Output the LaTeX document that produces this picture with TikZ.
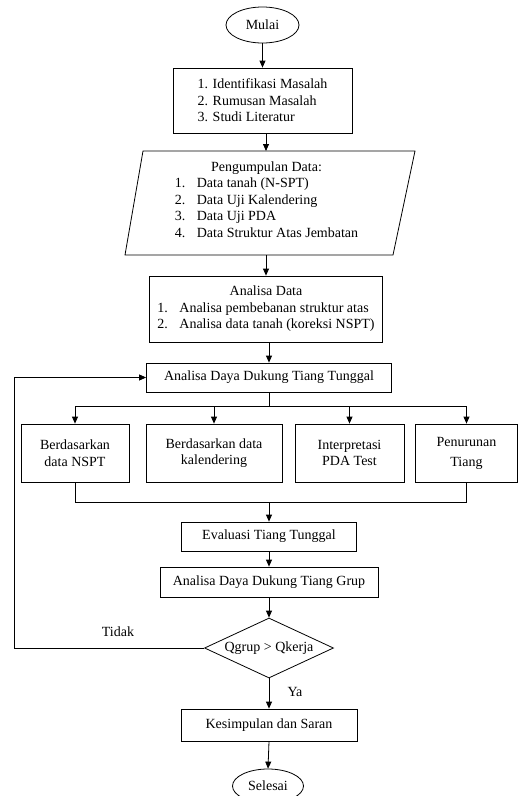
\documentclass[tikz,border=0pt]{standalone}
\usepackage{fontspec}
\setmainfont{Liberation Serif}
\usetikzlibrary{shapes.geometric,arrows.meta}
\begin{document}
\begin{tikzpicture}[x=1pt,y=-1pt,
  every node/.style={font=\fontsize{14}{16.5}\selectfont, inner sep=0pt},
  ln/.style={line width=0.8pt},
  box/.style={draw, ln, rectangle, align=center},
  term/.style={draw, ln, ellipse},
  arr/.style={ln, -{Triangle[length=7pt,width=6pt]}}
]
\useasboundingbox (0,0) rectangle (519,796);

% start
\node[term, minimum width=73pt, minimum height=36pt] (mulai) at (262.5,25) {Mulai};

% box 1
\node[box, align=left, minimum width=179pt, minimum height=65pt] (b1) at (262.5,100.5)
  {1. Identifikasi Masalah\\2. Rumusan Masalah\\3. Studi Literatur};

% parallelogram
\coordinate (p1) at (125,255);
\coordinate (p2) at (393,255);
\coordinate (p3) at (415,151);
\coordinate (p4) at (143,151);
\draw[ln] (p1) -- (p2) -- (p3) -- (p4) -- cycle;
\coordinate (pdtop) at (266,151);
\coordinate (pdbot) at (266,255);
\node (pd) at (266.5,201) {\begin{tabular}{@{}r@{\hspace{11.5pt}}l@{}}
  \multicolumn{2}{@{}c@{}}{Pengumpulan Data:}\\
  1. & Data tanah (N-SPT)\\
  2. & Data Uji Kalendering\\
  3. & Data Uji PDA\\
  4. & Data Struktur Atas Jembatan
  \end{tabular}};

% analisa data
\node[box, minimum width=233pt, minimum height=66pt] (ad) at (266,309) {\begin{tabular}{@{}r@{\hspace{11.5pt}}l@{}}
  \multicolumn{2}{@{}c@{}}{Analisa Data}\\
  1. & Analisa pembebanan struktur atas\\
  2. & Analisa data tanah (koreksi NSPT)
  \end{tabular}};

% tunggal
\node[box, minimum width=245pt, minimum height=29pt] (tg) at (269,377.5) {Analisa Daya Dukung Tiang Tunggal};

% four boxes
\node[box, minimum width=108pt, minimum height=58pt] (ba) at (75,453) {Berdasarkan\\data NSPT};
\node[box, minimum width=136pt, minimum height=58pt] (bb) at (214,453) {Berdasarkan data\\kalendering};
\node[box, minimum width=109pt, minimum height=58pt] (bc) at (349.5,453) {Interpretasi\\PDA Test};
\node[box, minimum width=102pt, minimum height=58pt] (bd) at (466.5,453) {Penurunan\\[3.5pt]Tiang};

% evaluasi, grup
\node[box, minimum width=175pt, minimum height=29pt] (ev) at (269,536.5) {Evaluasi Tiang Tunggal};
\node[box, minimum width=218pt, minimum height=30pt] (gr) at (269,582) {Analisa Daya Dukung Tiang Grup};

% decision
\node[draw, ln, diamond, aspect=2.15, minimum width=129pt, minimum height=60pt] (dec) at (269,648) {Qgrup > Qkerja};

% conclusion
\node[box, minimum width=176pt, minimum height=32pt] (ks) at (269,725) {Kesimpulan dan Saran};
\node[term, minimum width=71pt, minimum height=34pt] (sel) at (268,786) {Selesai};

% labels
\node (tidak) at (118,632) {Tidak};
\node (ya) at (295,692) {Ya};

% coordinates
\coordinate (sp) at (269,406);
\coordinate (mg) at (269,502);
\coordinate (fb) at (14,648);

% connectors
\draw[arr] (mulai.south) -- (b1.north);
\draw[arr] (b1.south -| pdtop) -- (pdtop);
\draw[arr] (pdbot) -- (pdbot |- ad.north);
\draw[arr] (ad.south -| tg.north) -- (tg.north);
\draw[ln] (tg.south) -- (sp);
\draw[ln] (ba.north |- sp) -- (bd.north |- sp);
\draw[arr] (ba.north |- sp) -- (ba.north);
\draw[arr] (bb.north |- sp) -- (bb.north);
\draw[arr] (bc.north |- sp) -- (bc.north);
\draw[arr] (bd.north |- sp) -- (bd.north);
\draw[ln] (ba.south) -- (ba.south |- mg) -- (bd.south |- mg) -- (bd.south);
\draw[arr] (mg) -- (ev.north);
\draw[arr] (ev.south) -- (gr.north);
\draw[arr] (gr.south) -- (dec.north);
\draw[arr] (dec.south) -- (ks.north);
\draw[arr] (ks.south) -- (sel.north);
\draw[arr] (dec.west) -- (fb) |- (tg.west);
\end{tikzpicture}
\end{document}
